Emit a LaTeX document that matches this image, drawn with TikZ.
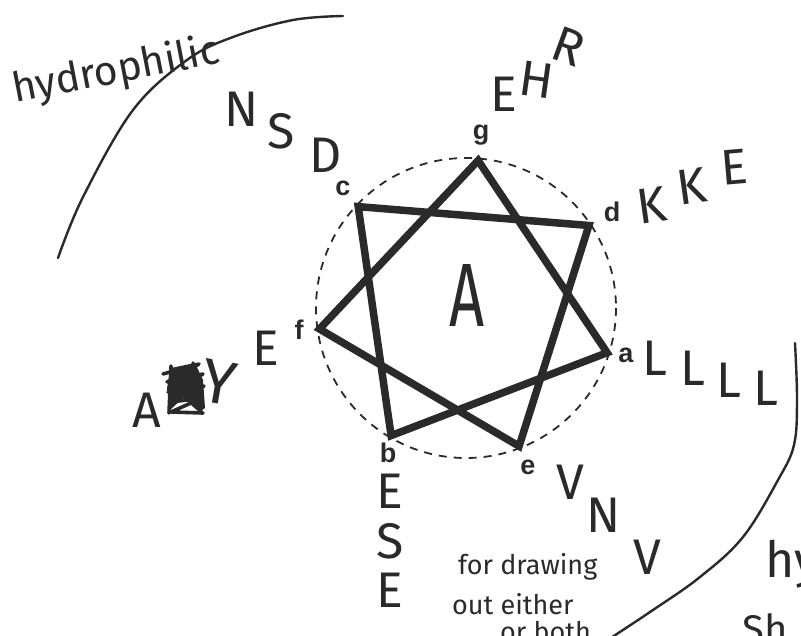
\documentclass[tikz,border=0pt]{standalone}
\usepackage{fontspec}
\setmainfont{Liberation Sans}
\newfontfamily\handfont{Fira Sans}
\definecolor{ink}{HTML}{2A2A2A}
\begin{document}
\begin{tikzpicture}[x=1pt,y=-1pt,
  every node/.style={inner sep=0pt, text=ink},
  hand/.style={font=\handfont\fontsize{50}{50}\selectfont},
  bighand/.style={font=\handfont\fontsize{62}{62}\selectfont},
  script/.style={font=\handfont\fontsize{27}{27}\selectfont},
  poslabel/.style={font=\fontsize{27}{27}\selectfont\bfseries},
  heptagram/.style={draw=ink, line width=7.5pt, line join=miter, miter limit=10},
  guide/.style={draw=ink, line width=1.8pt, dash pattern=on 8pt off 7pt},
  stroke/.style={draw=ink, line width=2.4pt, line cap=round, line join=round}]
\useasboundingbox (0,0) rectangle (801,635);
\clip (0,0) rectangle (801,635);
% wheel positions
\coordinate (O) at (466,308);
\coordinate (g) at (478.1,160.5);
\coordinate (d) at (588.9,225.5);
\coordinate (a) at (607.1,352.7);
\coordinate (e) at (519.1,446.2);
\coordinate (b) at (391.1,435.6);
\coordinate (f) at (319.5,329.0);
\coordinate (c) at (358.2,206.6);
\draw[guide] (O) circle[radius=150];
\draw[heptagram] (g) -- (a) -- (b) -- (c) -- (d) -- (e) -- (f) -- cycle;
% position labels
\node[poslabel] (lg) at (481,135) {g};
\node[poslabel] (ld) at (612,212) {d};
\node[poslabel] (la) at (626,355) {a};
\node[poslabel] (le) at (528,467) {e};
\node[poslabel] (lb) at (388,453) {b};
\node[poslabel] (lf) at (299,330) {f};
\node[poslabel] (lc) at (343,188) {c};
% residues
\node[hand] (n1) at (242,109) {N};
\node[hand] (s1) at (281,131) {S};
\node[hand] (d1) at (326,155) {D};
\node[hand] (e1) at (504,94) {E};
\node[hand, rotate=-8] (h1) at (537,80) {H};
\node[hand, rotate=-20] (r1) at (569,46) {R};
\node[hand, rotate=8] (k1) at (652,205) {K};
\node[hand, rotate=8] (k2) at (692,186) {K};
\node[hand, rotate=5] (e2) at (734,167) {E};
\node[hand] (l1) at (655,358) {L};
\node[hand] (l2) at (693,368) {L};
\node[hand] (l3) at (729,380) {L};
\node[hand] (l4) at (766,388) {L};
\node[hand] (v1) at (570,482) {V};
\node[hand] (n2) at (604,515) {N};
\node[hand] (v2) at (647,557) {V};
\node[hand] (e3) at (390,491) {E};
\node[hand] (s2) at (390,541) {S};
\node[hand] (e4) at (390,590) {E};
\node[hand] (a1) at (147,410) {A};
\node[bighand, rotate=-10] (y1) at (219,382) {Y};
\node[hand] (e5) at (266,348) {E};
\node[font=\handfont\fontsize{90}{90}\selectfont, xscale=0.68] (core) at (467,295) {A};
% crossed-out letter
\coordinate (scr) at (185,388);
\fill[ink, shift={(scr)}] (-14,-20) -- (10,-25) -- (18,-8) -- (20,20) -- (14,24) -- (-2,10) -- (-15,22) -- (-18,0) -- cycle;
\draw[stroke, line width=3.6pt, shift={(scr)}] plot coordinates {(-22,-14) (14,-24) (-18,-6) (18,-14) (-17,4) (19,-2) (-14,14) (17,10) (-14,24) (18,25)};
\draw[stroke, line width=3.6pt, shift={(scr)}] plot coordinates {(-14,-22) (-16,25)};
\draw[stroke, line width=3.6pt, shift={(scr)}] plot coordinates {(8,-25) (16,25)};
% sides
\draw[stroke] plot[smooth, tension=0.6] coordinates {(58,258) (83,197) (133,110) (187,60) (233,37) (293,20) (343,16)};
\draw[stroke] plot[smooth, tension=0.6] coordinates {(795,343) (797,400) (794,445) (778,480) (743,537) (700,577) (650,612) (600,645)};
\node[font=\handfont\fontsize{41}{41}\selectfont, rotate=11, anchor=base west] (philic) at (15,103) {hydrophilic};
\node[hand, anchor=base west] (phobic) at (765,577) {hydrophobic};
\node[font=\handfont\fontsize{40}{40}\selectfont, anchor=base west] (sh) at (742,643) {Sh};
% note
\node[script, anchor=base west] (note1) at (458,574) {for drawing};
\node[script, anchor=base west] (note2) at (452,614) {out either};
\node[script, anchor=base west] (note3) at (500,641) {or both};
\end{tikzpicture}
\end{document}
